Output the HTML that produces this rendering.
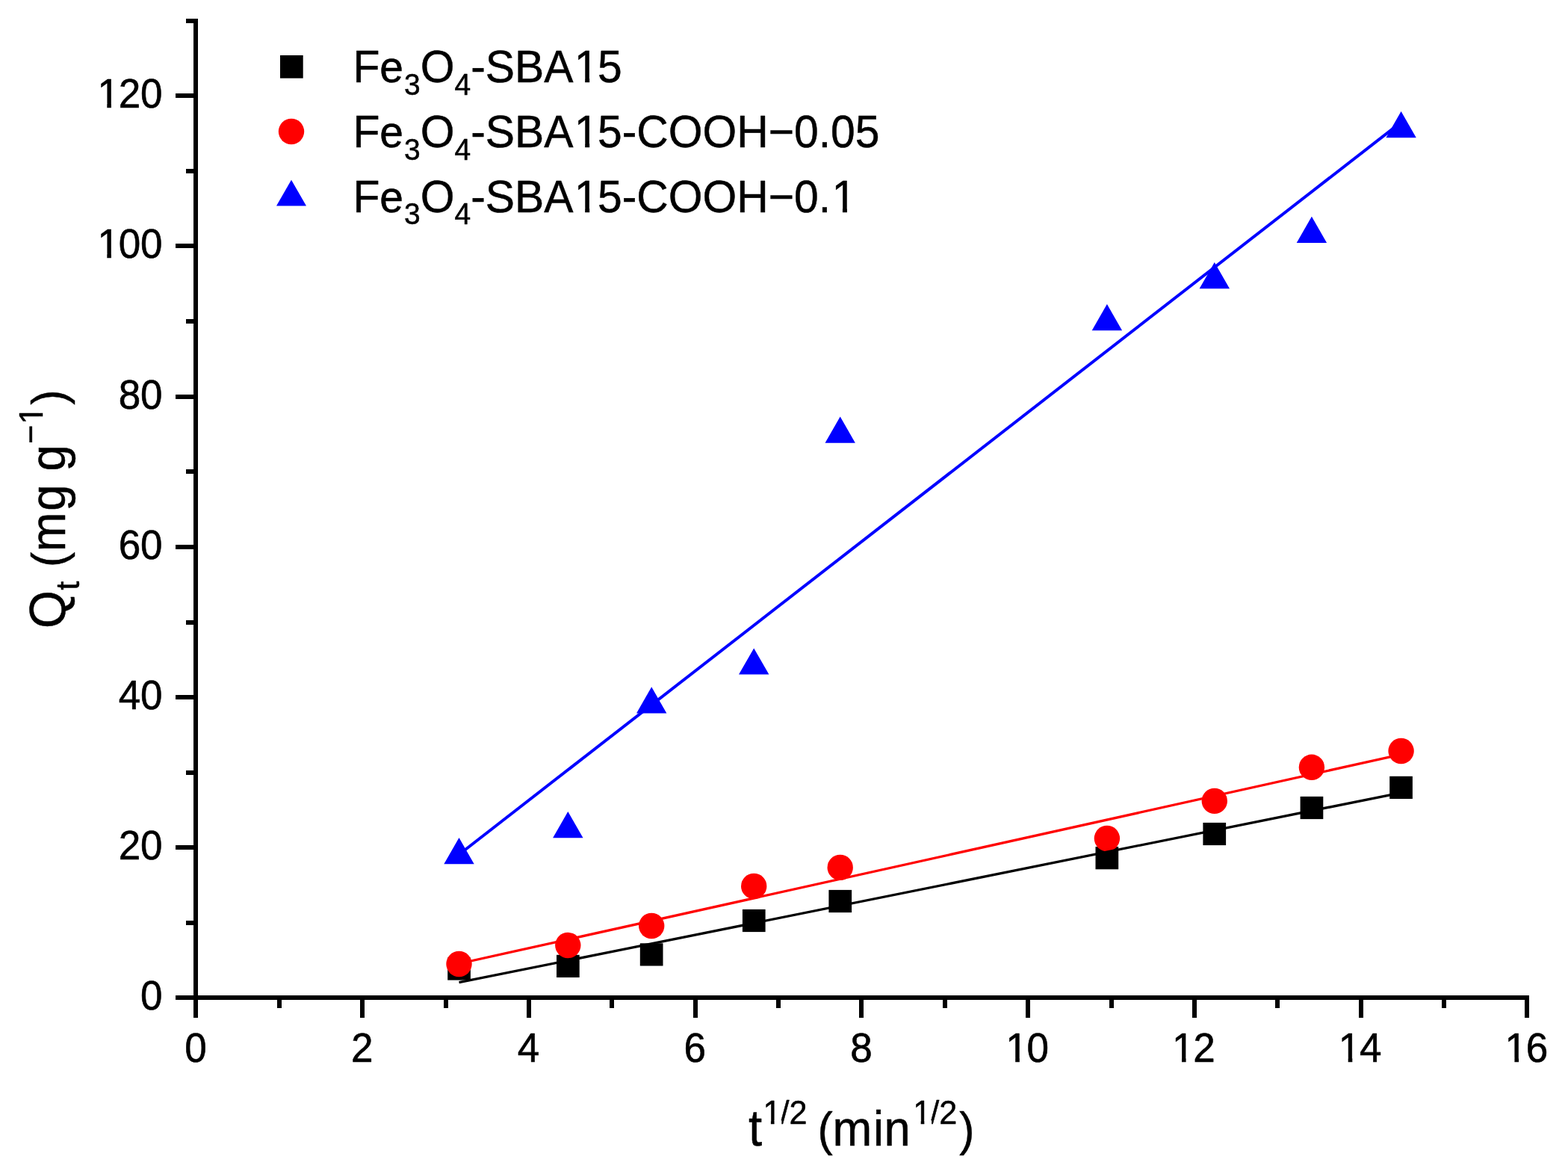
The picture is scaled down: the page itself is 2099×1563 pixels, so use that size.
<!DOCTYPE html>
<html lang="en"><head><meta charset="utf-8"><title>Intraparticle diffusion plot</title>
<style>html,body{margin:0;padding:0;background:#fff;}body{width:2099px;height:1563px;overflow:hidden;}svg{display:block;}text{font-family:"Liberation Sans",Arial,Helvetica,sans-serif;fill:#000;stroke:#000;stroke-linejoin:round;white-space:pre;}</style>
</head><body>
<svg width="2099" height="1563" viewBox="0 0 2099 1563">
<defs><clipPath id="k1"><path clip-rule="evenodd" d="M-30,-140H128V80H-30ZM2.31,-5.16H14.15V3.00H2.31ZM19.73,-5.16H31.16V3.00H19.73Z"/></clipPath><clipPath id="k2"><path clip-rule="evenodd" d="M-30,-140H128V80H-30ZM2.31,-5.16H14.15V3.00H2.31ZM19.73,-5.16H31.16V3.00H19.73Z"/></clipPath><clipPath id="k3"><path clip-rule="evenodd" d="M-30,-140H99V80H-30ZM2.31,-5.16H14.15V3.00H2.31ZM19.73,-5.16H31.16V3.00H19.73Z"/></clipPath><clipPath id="k4"><path clip-rule="evenodd" d="M-30,-140H99V80H-30ZM2.31,-5.16H14.15V3.00H2.31ZM19.73,-5.16H31.16V3.00H19.73Z"/></clipPath><clipPath id="k5"><path clip-rule="evenodd" d="M-30,-140H99V80H-30ZM2.31,-5.16H14.15V3.00H2.31ZM19.73,-5.16H31.16V3.00H19.73Z"/></clipPath><clipPath id="k6"><path clip-rule="evenodd" d="M-30,-140H99V80H-30ZM2.31,-5.16H14.15V3.00H2.31ZM19.73,-5.16H31.16V3.00H19.73Z"/></clipPath><clipPath id="k7"><path clip-rule="evenodd" d="M-30,-140H400V80H-30ZM297.86,-5.54H310.77V3.00H297.86ZM316.77,-5.54H329.22V3.00H316.77Z"/></clipPath><clipPath id="k8"><path clip-rule="evenodd" d="M-30,-140H745V80H-30ZM297.86,-5.54H310.77V3.00H297.86ZM316.77,-5.54H329.22V3.00H316.77Z"/></clipPath><clipPath id="k9"><path clip-rule="evenodd" d="M-30,-140H712V80H-30ZM297.86,-5.54H310.77V3.00H297.86ZM316.77,-5.54H329.22V3.00H316.77ZM642.62,-5.54H655.53V3.00H642.62ZM661.53,-5.54H673.98V3.00H661.53Z"/></clipPath><clipPath id="k10"><path clip-rule="evenodd" d="M-30,-140H343V80H-30ZM19.83,-32.26H30.00V-24.88H19.83ZM34.62,-32.26H44.45V-24.88H34.62ZM220.63,-32.26H230.80V-24.88H220.63ZM235.42,-32.26H245.25V-24.88H235.42Z"/></clipPath><clipPath id="k11"><path clip-rule="evenodd" d="M-30,-140H360V80H-30ZM273.36,-33.32H283.53V-25.94H273.36ZM288.15,-33.32H297.98V-25.94H288.15Z"/></clipPath></defs>
<rect x="0" y="0" width="2099" height="1563" fill="#ffffff"/>
<g fill="#000" shape-rendering="crispEdges">
<rect x="259" y="25" width="6" height="1337"/>
<rect x="235" y="1332" width="1812" height="6"/>
<rect x="235" y="1332" width="24" height="6"/>
<rect x="249" y="1232" width="10" height="6"/>
<rect x="235" y="1131" width="24" height="6"/>
<rect x="249" y="1031" width="10" height="6"/>
<rect x="235" y="930" width="24" height="6"/>
<rect x="249" y="830" width="10" height="6"/>
<rect x="235" y="729" width="24" height="6"/>
<rect x="249" y="628" width="10" height="6"/>
<rect x="235" y="528" width="24" height="6"/>
<rect x="249" y="427" width="10" height="6"/>
<rect x="235" y="326" width="24" height="6"/>
<rect x="249" y="226" width="10" height="6"/>
<rect x="235" y="125" width="24" height="6"/>
<rect x="249" y="25" width="10" height="6"/>
<rect x="259" y="1338" width="6" height="24"/>
<rect x="371" y="1338" width="6" height="11"/>
<rect x="482" y="1338" width="6" height="24"/>
<rect x="594" y="1338" width="6" height="11"/>
<rect x="705" y="1338" width="6" height="24"/>
<rect x="816" y="1338" width="6" height="11"/>
<rect x="928" y="1338" width="6" height="24"/>
<rect x="1039" y="1338" width="6" height="11"/>
<rect x="1150" y="1338" width="6" height="24"/>
<rect x="1262" y="1338" width="6" height="11"/>
<rect x="1373" y="1338" width="6" height="24"/>
<rect x="1485" y="1338" width="6" height="11"/>
<rect x="1596" y="1338" width="6" height="24"/>
<rect x="1707" y="1338" width="6" height="11"/>
<rect x="1819" y="1338" width="6" height="24"/>
<rect x="1930" y="1338" width="6" height="11"/>
<rect x="2041" y="1338" width="6" height="24"/>
</g>
<text transform="translate(188.12,1350.90) scale(1,1.040)" stroke-width="0.60"><tspan x="0.00" y="0.00" font-size="53.00">0</tspan></text>
<text transform="translate(158.65,1149.90) scale(1,1.040)" stroke-width="0.60"><tspan x="0.00 29.48" y="0.00" font-size="53.00">20</tspan></text>
<text transform="translate(158.65,948.90) scale(1,1.040)" stroke-width="0.60"><tspan x="0.00 29.48" y="0.00" font-size="53.00">40</tspan></text>
<text transform="translate(158.65,747.90) scale(1,1.040)" stroke-width="0.60"><tspan x="0.00 29.48" y="0.00" font-size="53.00">60</tspan></text>
<text transform="translate(158.65,546.90) scale(1,1.040)" stroke-width="0.60"><tspan x="0.00 29.48" y="0.00" font-size="53.00">80</tspan></text>
<text transform="translate(129.17,344.90) scale(1,1.040)" stroke-width="0.60" clip-path="url(#k1)"><tspan x="1.27 29.48 58.95" y="0.00" font-size="53.00">100</tspan></text>
<text transform="translate(129.17,143.90) scale(1,1.040)" stroke-width="0.60" clip-path="url(#k2)"><tspan x="1.27 29.48 58.95" y="0.00" font-size="53.00">120</tspan></text>
<text transform="translate(247.26,1421.00) scale(1,1.040)" stroke-width="0.60"><tspan x="0.00" y="0.00" font-size="53.00">0</tspan></text>
<text transform="translate(470.01,1421.00) scale(1,1.040)" stroke-width="0.60"><tspan x="0.00" y="0.00" font-size="53.00">2</tspan></text>
<text transform="translate(692.76,1421.00) scale(1,1.040)" stroke-width="0.60"><tspan x="0.00" y="0.00" font-size="53.00">4</tspan></text>
<text transform="translate(915.51,1421.00) scale(1,1.040)" stroke-width="0.60"><tspan x="0.00" y="0.00" font-size="53.00">6</tspan></text>
<text transform="translate(1138.26,1421.00) scale(1,1.040)" stroke-width="0.60"><tspan x="0.00" y="0.00" font-size="53.00">8</tspan></text>
<text transform="translate(1345.07,1421.00) scale(1,1.040)" stroke-width="0.60" clip-path="url(#k3)"><tspan x="1.27 29.48" y="0.00" font-size="53.00">10</tspan></text>
<text transform="translate(1567.82,1421.00) scale(1,1.040)" stroke-width="0.60" clip-path="url(#k4)"><tspan x="1.27 29.48" y="0.00" font-size="53.00">12</tspan></text>
<text transform="translate(1790.57,1421.00) scale(1,1.040)" stroke-width="0.60" clip-path="url(#k5)"><tspan x="1.27 29.48" y="0.00" font-size="53.00">14</tspan></text>
<text transform="translate(2013.32,1421.00) scale(1,1.040)" stroke-width="0.60" clip-path="url(#k6)"><tspan x="1.27 29.48" y="0.00" font-size="53.00">16</tspan></text>
<g fill="#000">
<rect x="599.2" y="1281.4" width="30.7" height="30.2"/>
<rect x="745.0" y="1277.8" width="30.7" height="30.2"/>
<rect x="856.8" y="1262.3" width="30.7" height="30.2"/>
<rect x="993.9" y="1216.9" width="30.7" height="30.2"/>
<rect x="1109.4" y="1190.9" width="30.7" height="30.2"/>
<rect x="1466.5" y="1133.1" width="30.7" height="30.2"/>
<rect x="1610.4" y="1100.9" width="30.7" height="30.2"/>
<rect x="1740.6" y="1065.9" width="30.7" height="30.2"/>
<rect x="1860.2" y="1038.8" width="30.7" height="30.2"/>
</g>
<g fill="#ff0000">
<circle cx="614.5" cy="1290.0" r="17.2"/>
<circle cx="760.3" cy="1265.0" r="17.2"/>
<circle cx="872.2" cy="1239.0" r="17.2"/>
<circle cx="1009.2" cy="1185.9" r="17.2"/>
<circle cx="1124.7" cy="1160.9" r="17.2"/>
<circle cx="1481.9" cy="1122.0" r="17.2"/>
<circle cx="1625.8" cy="1071.9" r="17.2"/>
<circle cx="1755.9" cy="1026.8" r="17.2"/>
<circle cx="1875.6" cy="1005.0" r="17.2"/>
</g>
<g fill="#0000ff">
<polygon points="614.5,1121.0 634.7,1156.2 594.3,1156.2"/>
<polygon points="760.3,1086.0 780.5,1121.2 740.1,1121.2"/>
<polygon points="872.2,919.2 892.4,954.4 852.0,954.4"/>
<polygon points="1009.2,867.4 1029.4,902.6 989.0,902.6"/>
<polygon points="1124.7,557.6 1144.9,592.8 1104.5,592.8"/>
<polygon points="1481.9,407.0 1502.1,442.2 1461.7,442.2"/>
<polygon points="1625.8,351.1 1646.0,386.3 1605.6,386.3"/>
<polygon points="1755.9,289.7 1776.1,324.9 1735.7,324.9"/>
<polygon points="1875.6,149.0 1895.8,184.2 1855.4,184.2"/>
</g>
<g fill="none" stroke-width="3.3" stroke-linecap="butt">
<line x1="614.5" y1="1314.7" x2="1875.6" y2="1060.8" stroke="#000"/>
<line x1="614.5" y1="1289.5" x2="1875.6" y2="1009.6" stroke="#ff0000"/>
<line x1="614.5" y1="1143.5" x2="1875.6" y2="163.6" stroke="#0000ff" stroke-width="4"/>
</g>
<rect x="375" y="74" width="30.7" height="30.7" fill="#000"/>
<circle cx="390" cy="176" r="17.2" fill="#ff0000"/>
<polygon points="390,240.7 410,275.6 370,275.6" fill="#0000ff"/>
<text transform="translate(472.40,110.30) scale(1,1.040)" stroke-width="0.50" clip-path="url(#k7)"><tspan x="0.00" y="0.00" font-size="58.80">F</tspan><tspan x="35.92" y="0.00" font-size="57.04">e</tspan><tspan x="68.62" y="15.87" font-size="39.00">3</tspan><tspan x="90.31" y="0.00" font-size="58.80">O</tspan><tspan x="136.05" y="15.87" font-size="39.00">4</tspan><tspan x="157.74 177.32 216.54 255.75 296.39 327.68" y="0.00" font-size="58.80">-SBA15</tspan></text>
<text transform="translate(472.40,197.10) scale(1,1.040)" stroke-width="0.50" clip-path="url(#k8)"><tspan x="0.00" y="0.00" font-size="58.80">F</tspan><tspan x="35.92" y="0.00" font-size="57.04">e</tspan><tspan x="68.62" y="15.87" font-size="39.00">3</tspan><tspan x="90.31" y="0.00" font-size="58.80">O</tspan><tspan x="136.05" y="15.87" font-size="39.00">4</tspan><tspan x="157.74 177.32 216.54 255.75 296.39 327.68 360.38 379.96 422.42 468.16 513.89 556.36 590.70 623.40 639.73 672.44" y="0.00" font-size="58.80">-SBA15-COOH−0.05</tspan></text>
<text transform="translate(472.40,283.90) scale(1,1.040)" stroke-width="0.50" clip-path="url(#k9)"><tspan x="0.00" y="0.00" font-size="58.80">F</tspan><tspan x="35.92" y="0.00" font-size="57.04">e</tspan><tspan x="68.62" y="15.87" font-size="39.00">3</tspan><tspan x="90.31" y="0.00" font-size="58.80">O</tspan><tspan x="136.05" y="15.87" font-size="39.00">4</tspan><tspan x="157.74 177.32 216.54 255.75 296.39 327.68 360.38 379.96 422.42 468.16 513.89 556.36 590.70 623.40 641.15" y="0.00" font-size="58.80">-SBA15-COOH−0.1</tspan></text>
<text transform="translate(1001.90,1532.90) scale(1,1.040)" stroke-width="0.50" clip-path="url(#k10)"><tspan x="0.00" y="0.00" font-size="65.30">t</tspan><tspan x="19.54 42.53 54.53 78.55" y="-27.88" font-size="43.20">1/2 </tspan><tspan x="92.49" y="0.00" font-size="60.73">(</tspan><tspan x="112.70 167.10 181.60" y="0.00" font-size="63.34">min</tspan><tspan x="220.34 243.33 255.33" y="-27.88" font-size="43.20">1/2</tspan><tspan x="282.33" y="0.00" font-size="60.73">)</tspan></text>
<text transform="translate(87.20,840.90) rotate(-90) scale(1,1.040)" stroke-width="0.50" clip-path="url(#k11)"><tspan x="0.00" y="0.00" font-size="65.30">Q</tspan><tspan x="51.20 63.20" y="17.88" font-size="43.20">t </tspan><tspan x="81.89" y="0.00" font-size="60.73">(</tspan><tspan x="102.70 157.10 193.41 210.30" y="0.00" font-size="63.34">mg g</tspan><tspan x="246.80" y="-29.77" font-size="43.20">−</tspan><tspan x="273.06" y="-28.94" font-size="43.20">1</tspan><tspan x="299.23" y="0.00" font-size="60.73">)</tspan></text>
</svg>
</body></html>
